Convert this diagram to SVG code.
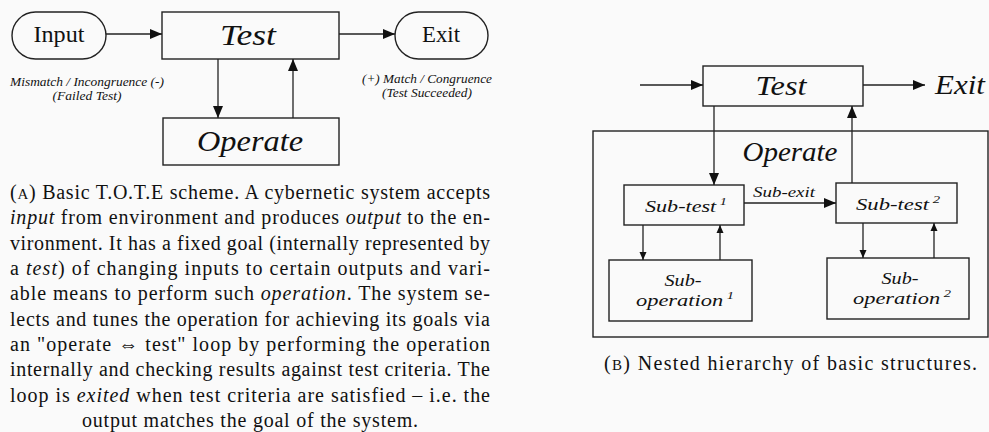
<svg xmlns="http://www.w3.org/2000/svg" width="989" height="432" viewBox="0 0 989 432">
  <defs>
    <marker id="ah" markerUnits="userSpaceOnUse" markerWidth="12" markerHeight="10" refX="12" refY="5" orient="auto">
      <path d="M0,0 L12,5 L0,10 Z" fill="#111"/>
    </marker>
    <marker id="ahs" markerUnits="userSpaceOnUse" markerWidth="8" markerHeight="8" refX="8" refY="4" orient="auto">
      <path d="M0,0.5 L8,4 L0,7.5 Z" fill="#111"/>
    </marker>
  </defs>
  <style>
    .box { fill: none; stroke: #222; stroke-width: 1.4; }
    .wire { fill: none; stroke: #222; stroke-width: 1.3; }
    .big { marker-end: url(#ah); }
    .small { marker-end: url(#ahs); }
    text { font-family: "Liberation Serif", "DejaVu Serif", serif; fill: #111; }
    .cm { text-anchor: middle; }
    .it { font-style: italic; }
    .cap { font-size: 20px; }
  </style>
  <rect width="989" height="432" fill="#fafafa"/>

  <!-- Panel A: basic T.O.T.E loop -->
  <g id="a-input">
    <rect class="box" x="12" y="12" width="94" height="47" rx="23.5"/>
    <text class="cm" x="59" y="42" font-size="23" textLength="51" lengthAdjust="spacingAndGlyphs">Input</text>
  </g>
  <g id="a-test">
    <rect class="box" x="162" y="12" width="177" height="47"/>
    <text class="cm it" x="248" y="45" font-size="30" textLength="56" lengthAdjust="spacingAndGlyphs">Test</text>
  </g>
  <g id="a-exit">
    <rect class="box" x="395" y="12" width="93" height="47" rx="23.5"/>
    <text class="cm" x="441" y="42" font-size="23" textLength="38" lengthAdjust="spacingAndGlyphs">Exit</text>
  </g>
  <g id="a-operate">
    <rect class="box" x="163" y="118" width="176" height="47"/>
    <text class="cm it" x="250" y="151" font-size="30" textLength="106" lengthAdjust="spacingAndGlyphs">Operate</text>
  </g>
  <g id="a-labels">
    <text class="cm it" x="87" y="86" font-size="12" textLength="154" lengthAdjust="spacingAndGlyphs">Mismatch / Incongruence (-)</text>
    <text class="cm it" x="87" y="100" font-size="12" textLength="69" lengthAdjust="spacingAndGlyphs">(Failed Test)</text>
    <text class="cm it" x="427" y="83" font-size="12" textLength="130" lengthAdjust="spacingAndGlyphs">(+) Match / Congruence</text>
    <text class="cm it" x="427" y="97" font-size="12" textLength="90" lengthAdjust="spacingAndGlyphs">(Test Succeeded)</text>
  </g>
  <g id="a-connectors">
    <line class="wire big" x1="106" y1="34" x2="162" y2="34"/>
    <line class="wire big" x1="339" y1="34" x2="395" y2="34"/>
    <line class="wire big" x1="218" y1="59" x2="218" y2="118"/>
    <line class="wire big" x1="293" y1="118" x2="293" y2="59"/>
  </g>

  <!-- Panel A caption (justified) -->
  <g id="a-caption">
    <text class="cap" x="10" y="199" textLength="480">(<tspan font-size="15">A</tspan>) Basic T.O.T.E scheme.  A cybernetic system accepts</text>
    <text class="cap" x="10" y="224" textLength="480"><tspan font-style="italic">input</tspan> from environment and produces <tspan font-style="italic">output</tspan> to the en-</text>
    <text class="cap" x="10" y="250" textLength="480">vironment. It has a fixed goal (internally represented by</text>
    <text class="cap" x="10" y="275" textLength="480">a <tspan font-style="italic">test</tspan>) of changing inputs to certain outputs and vari-</text>
    <text class="cap" x="10" y="300" textLength="480">able means to perform such <tspan font-style="italic">operation</tspan>.  The system se-</text>
    <text class="cap" x="10" y="326" textLength="480">lects and tunes the operation for achieving its goals via</text>
    <text class="cap" x="10" y="351" textLength="480">an "operate ⇔ test" loop by performing the operation</text>
    <text class="cap" x="10" y="376" textLength="480">internally and checking results against test criteria. The</text>
    <text class="cap" x="10" y="402" textLength="480">loop is <tspan font-style="italic">exited</tspan> when test criteria are satisfied – i.e.  the</text>
    <text class="cap" x="250" y="427" text-anchor="middle" textLength="336">output matches the goal of the system.</text>
  </g>

  <!-- Panel B: nested hierarchy -->
  <g id="b-test">
    <rect class="box" x="703" y="66" width="160" height="40"/>
    <text class="cm it" x="781" y="95" font-size="27" textLength="51" lengthAdjust="spacingAndGlyphs">Test</text>
  </g>
  <g id="b-exit">
    <text class="it" x="935" y="94" font-size="27" textLength="50" lengthAdjust="spacingAndGlyphs">Exit</text>
  </g>
  <g id="b-operate">
    <rect class="box" x="593" y="131" width="395" height="206"/>
    <text class="cm it" x="790" y="161" font-size="28" textLength="95" lengthAdjust="spacingAndGlyphs">Operate</text>
  </g>
  <g id="b-subtest1">
    <rect class="box" x="624" y="185" width="120" height="40"/>
    <text class="it" x="645" y="212" font-size="17" textLength="82" lengthAdjust="spacingAndGlyphs">Sub-test<tspan font-size="11" dy="-7"> 1</tspan></text>
  </g>
  <g id="b-subtest2">
    <rect class="box" x="836" y="183" width="121" height="40"/>
    <text class="it" x="856" y="210" font-size="17" textLength="84" lengthAdjust="spacingAndGlyphs">Sub-test<tspan font-size="11" dy="-7"> 2</tspan></text>
  </g>
  <g id="b-subop1">
    <rect class="box" x="609" y="260" width="143" height="61"/>
    <text class="cm it" x="683" y="286" font-size="17" textLength="37" lengthAdjust="spacingAndGlyphs">Sub-</text>
    <text class="it" x="636" y="306" font-size="17" textLength="98" lengthAdjust="spacingAndGlyphs">operation<tspan font-size="11" dy="-7"> 1</tspan></text>
  </g>
  <g id="b-subop2">
    <rect class="box" x="827" y="258" width="142" height="61"/>
    <text class="cm it" x="900" y="284" font-size="17" textLength="37" lengthAdjust="spacingAndGlyphs">Sub-</text>
    <text class="it" x="853" y="304" font-size="17" textLength="98" lengthAdjust="spacingAndGlyphs">operation<tspan font-size="11" dy="-7"> 2</tspan></text>
  </g>
  <g id="b-connectors">
    <line class="wire big" x1="640" y1="85" x2="703" y2="85"/>
    <line class="wire big" x1="863" y1="85" x2="925" y2="85"/>
    <line class="wire big" x1="714" y1="106" x2="714" y2="185"/>
    <line class="wire big" x1="852" y1="183" x2="852" y2="106"/>
    <line class="wire big" x1="744" y1="203" x2="836" y2="203"/>
    <text class="it" x="753" y="197" font-size="14" textLength="62" lengthAdjust="spacingAndGlyphs">Sub-exit</text>
    <line class="wire small" x1="643" y1="225" x2="643" y2="260"/>
    <line class="wire small" x1="720" y1="260" x2="720" y2="225"/>
    <line class="wire small" x1="863" y1="223" x2="863" y2="258"/>
    <line class="wire small" x1="934" y1="258" x2="934" y2="223"/>
  </g>

  <g id="b-caption">
    <text class="cap" x="604" y="370" textLength="373">(<tspan font-size="15">B</tspan>) Nested hierarchy of basic structures.</text>
  </g>
</svg>
